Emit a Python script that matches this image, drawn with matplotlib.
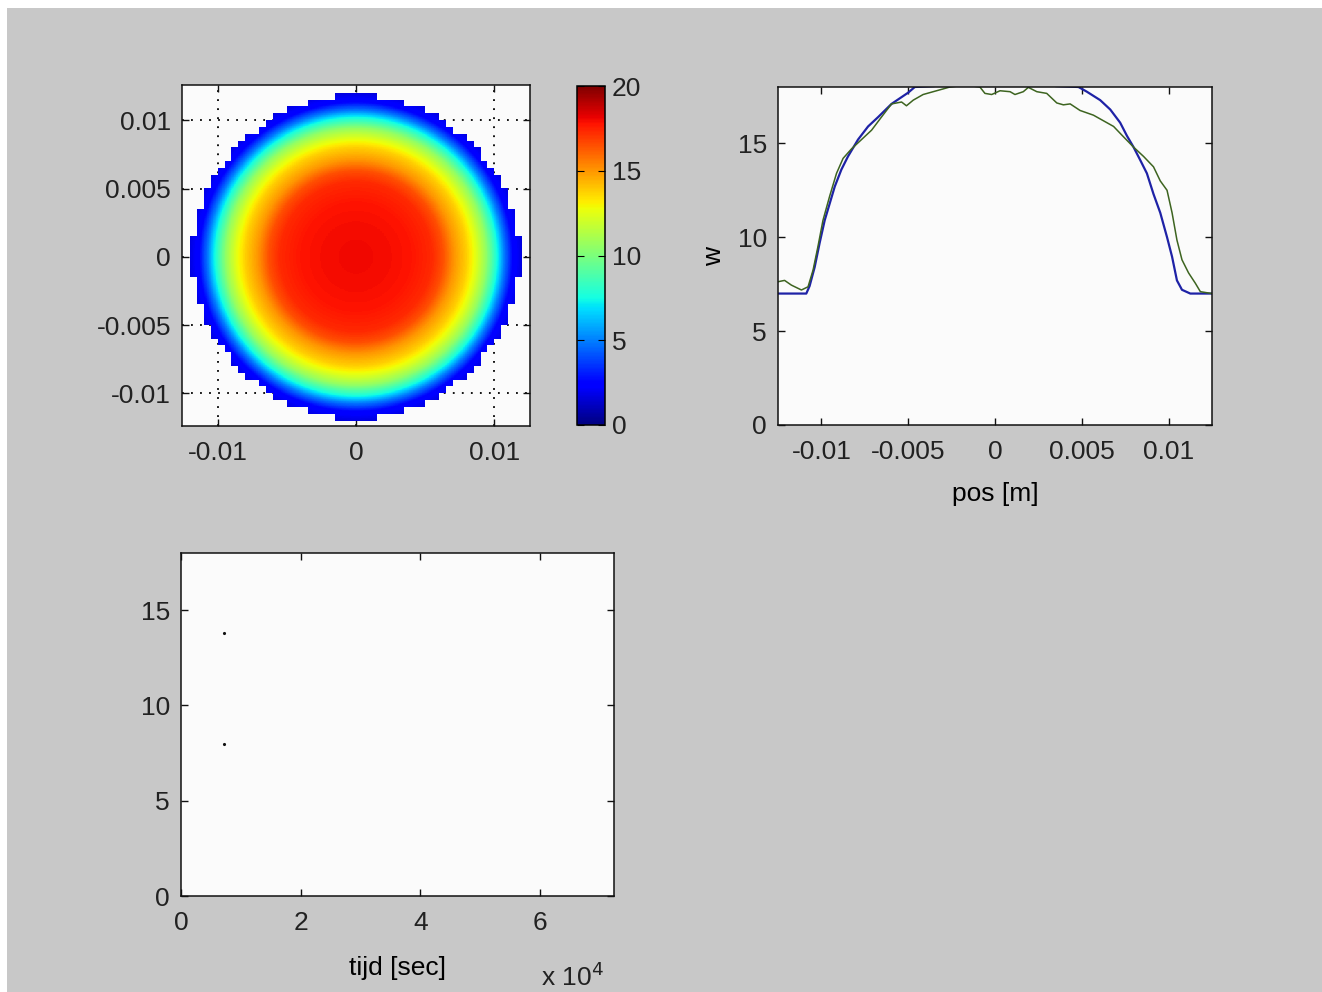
import numpy as np
import matplotlib
matplotlib.use("Agg")
import matplotlib.pyplot as plt
from matplotlib.patches import Rectangle
from matplotlib.ticker import FuncFormatter

plt.rcParams['font.family'] = ['Liberation Sans', 'DejaVu Sans']
plt.rcParams['font.size'] = 19

# --- data ---

# radial profile of the disk image (radius in m, value)
prof_r = [0.0, 0.002, 0.004, 0.0055, 0.0063, 0.0071, 0.0080, 0.0087, 0.0094, 0.0102, 0.0107, 0.0113, 0.0121]
prof_v = [18.0, 17.95, 17.75, 17.3, 16.5, 15.0, 13.8, 12.4, 10.6, 7.5, 5.0, 2.6, 1.6]
disk_R = 0.0121
grid_n = 51  # vertices per side

# w profile (blue)
pos_b = [-0.0125, -0.01087, -0.01068, -0.01039, -0.01010, -0.00981, -0.00952, -0.00923,
         -0.00885, -0.00847, -0.00789, -0.00731, -0.00673, -0.00596, -0.00500, -0.00462,
         -0.0035, -0.002, 0.0, 0.002, 0.0035, 0.00481, 0.00529, 0.00606, 0.00664, 0.00721,
         0.00760, 0.00798, 0.00837, 0.00875, 0.00913, 0.00952, 0.00991, 0.01020, 0.01048,
         0.01077, 0.01125, 0.0125]
w_b = [7.0, 7.0, 7.4, 8.4, 9.7, 10.9, 11.8, 12.7,
       13.6, 14.3, 15.2, 15.9, 16.4, 17.1, 17.7, 18.0,
       18.05, 18.6, 19.0, 18.6, 18.05, 18.0, 17.75, 17.3, 16.8, 16.1,
       15.4, 14.8, 14.1, 13.4, 12.3, 11.3, 10.0, 8.96, 7.7,
       7.2, 7.0, 7.0]

# w profile (green)
pos_g = [-0.0125, -0.01212, -0.01173, -0.01115, -0.01077, -0.01048, -0.01020, -0.00991,
         -0.00952, -0.00913, -0.00875, -0.00827, -0.00769, -0.00711, -0.00654, -0.00596,
         -0.00538, -0.00510, -0.00471, -0.00414, -0.00356, -0.00298, -0.00260, -0.0017,
         -0.00087, -0.00058, -0.00019, 0.00029, 0.00087, 0.00115, 0.00163, 0.00192,
         0.00241, 0.00298, 0.00356, 0.00394, 0.00433, 0.00490, 0.00567, 0.00625,
         0.00683, 0.00740, 0.00798, 0.00856, 0.00913, 0.00952, 0.00991, 0.01020,
         0.01048, 0.01077, 0.01115, 0.01154, 0.01183, 0.0125]
w_g = [7.63, 7.7, 7.45, 7.19, 7.36, 8.25, 9.5, 10.9,
       12.2, 13.4, 14.2, 14.7, 15.2, 15.7, 16.4, 17.1,
       17.2, 17.0, 17.3, 17.6, 17.75, 17.9, 18.0, 18.1,
       18.0, 17.66, 17.6, 17.8, 17.75, 17.6, 17.75, 17.98,
       17.75, 17.66, 17.15, 17.05, 17.1, 16.75, 16.5, 16.2,
       15.9, 15.35, 14.8, 14.3, 13.75, 13.0, 12.5, 11.3,
       9.85, 8.8, 8.1, 7.55, 7.1, 7.0]

# time plot points
t_pts = [7200, 7200]
w_pts = [13.8, 8.0]

# --- figure ---
W, H = 1322, 992
fig = plt.figure(figsize=(W / 100, H / 100), dpi=100, facecolor='white')
fig.add_artist(Rectangle((7 / W, 0), 1 - 7 / W, 1 - 8 / H, transform=fig.transFigure,
                         facecolor='#c8c8c8', edgecolor='none', zorder=-10))


def px_axes(l, t, r, b):
    return fig.add_axes([l / W, 1 - b / H, (r - l) / W, (b - t) / H])


def style(ax):
    ax.set_facecolor('#fbfbfb')
    for s in ax.spines.values():
        s.set_linewidth(1.1)
        s.set_color('#111111')
    ax.tick_params(direction='in', top=True, right=True, length=5, width=1.0,
                   colors='#111111', labelcolor='#222222')
    ax.tick_params(axis='x', pad=11)
    ax.tick_params(axis='y', pad=8)


gfmt = FuncFormatter(lambda v, p: '%g' % round(v, 6))

# top-left: disk image
ax1 = px_axes(182, 85, 530, 426)
style(ax1)
verts = np.linspace(-0.0125, 0.0125, grid_n)
VX, VY = np.meshgrid(verts, verts)
inside = np.hypot(VX, VY) <= disk_R
cells = inside[:-1, :-1] & inside[1:, :-1] & inside[:-1, 1:] & inside[1:, 1:]
sub = 10
mask = np.repeat(np.repeat(cells, sub, axis=0), sub, axis=1)
nf = (grid_n - 1) * sub
fc = np.linspace(-0.0125, 0.0125, nf + 1)
fc = 0.5 * (fc[:-1] + fc[1:])
FX, FY = np.meshgrid(fc, fc)
vals = np.interp(np.hypot(FX, FY), prof_r, prof_v)
img = np.ma.masked_where(~mask, vals)
im = ax1.imshow(img, cmap='jet', vmin=0, vmax=20, origin='lower',
                extent=[-0.0125, 0.0125, -0.0125, 0.0125], aspect='auto',
                interpolation='nearest', zorder=1)
ax1.set_xlim(-0.0126, 0.0126)
ax1.set_ylim(-0.0124, 0.0126)
ax1.set_xticks([-0.01, 0, 0.01])
ax1.set_yticks([-0.01, -0.005, 0, 0.005, 0.01])
ax1.xaxis.set_major_formatter(gfmt)
ax1.yaxis.set_major_formatter(gfmt)
ax1.set_axisbelow(True)
ax1.grid(True, color='black', linestyle=(0, (1, 4)), linewidth=1.3)

# colorbar
cax = px_axes(577, 86, 605, 425)
cb = fig.colorbar(im, cax=cax, ticks=[0, 5, 10, 15, 20])
cb.outline.set_linewidth(1.1)
cax.tick_params(direction='in', left=True, right=True, length=5, pad=5,
                labelcolor='#222222')

# top-right: w vs pos
ax2 = px_axes(778, 87, 1212, 425)
style(ax2)
ax2.plot(pos_b, w_b, color='#1e22a6', linewidth=1.6)
ax2.plot(pos_g, w_g, color='#3d6420', linewidth=1.1)
ax2.set_xlim(-0.0125, 0.0125)
ax2.set_ylim(0, 18)
ax2.set_xticks([-0.01, -0.005, 0, 0.005, 0.01])
ax2.set_yticks([0, 5, 10, 15])
ax2.xaxis.set_major_formatter(gfmt)
ax2.set_xlabel('pos [m]', labelpad=13)
ax2.set_ylabel('w', labelpad=8)

# bottom-left: time plot
ax3 = px_axes(181, 553, 614, 896)
style(ax3)
ax3.plot(t_pts, w_pts, linestyle='none', marker='.', markersize=2.5, color='#111111')
ax3.set_xlim(0, 72400)
ax3.set_ylim(0, 18)
ax3.set_xticks([0, 20000, 40000, 60000])
ax3.set_xticklabels(['0', '2', '4', '6'])
ax3.set_yticks([0, 5, 10, 15])
ax3.set_xlabel('tijd [sec]', labelpad=15)
ax3.text(0.905, -0.235, r'x 10$^{4}$', transform=ax3.transAxes, ha='center',
         va='center', color='#222222', fontsize=19)

fig.savefig('out.png', dpi=100, facecolor=fig.get_facecolor())
